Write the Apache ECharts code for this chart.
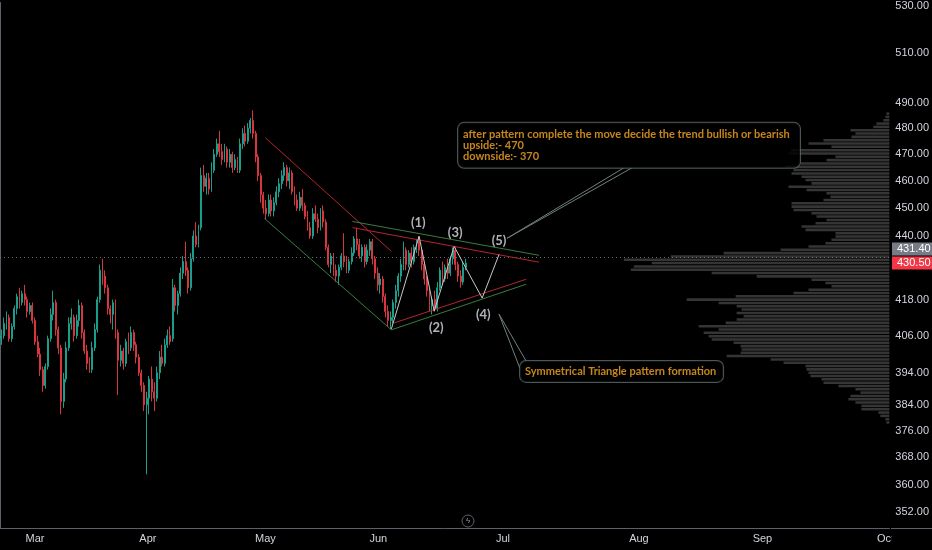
<!DOCTYPE html>
<html><head><meta charset="utf-8">
<script src="https://cdn.jsdelivr.net/npm/echarts@6/dist/echarts.min.js"></script>
<style>html,body{margin:0;padding:0;background:#000}#c{width:932px;height:550px}</style>
</head><body><div id="c"></div>
<script>
// ---- data ----
const monthTicks = [13.5, 57, 102.3, 145.8, 193.8, 246.2, 293.8, 341.2];
const monthLabels = ['Mar', 'Apr', 'May', 'Jun', 'Jul', 'Aug', 'Sep', 'Oct'];
const priceTicks = [352, 360, 368, 376, 384, 394, 406, 418, 440, 450, 460, 470, 480, 490, 510, 530];
const priceMin = 347.6, priceMax = 531.3;
const lastPrice = 430.50, refPrice = 431.40;

// [open, close, low, high]
const candles = [
[405,406,403,408],[406,410,405,412],[410,412,408,414],[412,405,404,413],[405,409,404,410],
[409,415,408,416],[415,419,413,420],[419,417,415,422],[417,420,416,421],[420,418,416,423],
[418,414,412,419],[414,416,413,417],[416,411,410,417],[411,404,403,412],[404,400,399,406],
[400,395,393,402],[395,390,388,396],[390,396,389,397],[396,405,395,406],[405,413,404,415],
[413,417,411,421],[417,408,406,418],[408,402,400,409],[402,385,381,403],[385,392,383,394],
[392,402,391,404],[402,410,401,412],[410,412,408,415],[412,406,404,413],[406,411,405,413],
[411,416,409,418],[416,407,405,417],[407,401,400,408],[401,397,395,403],[397,395,394,399],
[395,402,394,404],[402,408,401,410],[408,418,407,419],[418,428,417,430],[428,426,423,432],
[426,422,420,428],[422,415,413,423],[415,413,410,416],[413,417,408,418],[417,407,405,418],
[407,398,387,408],[398,401,396,403],[401,397,395,402],[397,404,396,405],[404,402,400,407],
[402,407,401,409],[407,403,401,408],[403,399,397,404],[399,394,393,400],[394,390,388,395],
[390,384,382,391],[384,386,363,388],[386,392,381,393],[392,388,385,396],[388,386,382,391],
[386,394,385,396],[394,399,392,401],[399,397,396,403],[397,403,396,405],[403,406,402,408],
[406,404,403,409],[405,422,404,425],[422,416,414,423],[416,420,413,421],[420,427,419,429],
[427,431,425,433],[431,428,426,438],[428,422,420,429],[422,432,421,434],[432,440,431,442],
[440,437,436,445],[437,442,436,444],[443,462,442,465],[462,458,456,466],[458,461,455,463],
[461,457,455,463],[457,464,456,467],[464,470,463,472],[470,474,469,476],[474,471,469,479],
[471,468,466,474],[468,472,467,474],[472,467,465,473],[467,470,465,472],[470,465,463,471],
[465,468,464,470],[468,464,463,469],[464,474,463,476],[474,478,472,480],[478,475,473,481],
[475,480,474,482],[480,483,478,484],[483,478,476,487],[478,469,467,479],[469,462,460,470],
[462,455,452,463],[455,450,448,456],[450,448,446,453],[448,453,447,455],[453,449,447,455],
[449,452,447,454],[452,456,451,458],[456,459,454,461],[459,462,457,464],[462,465,460,467],
[465,460,458,466],[460,463,457,465],[463,456,455,464],[456,453,451,458],[453,450,449,455],
[450,454,449,456],[454,451,449,457],[451,447,446,452],[447,443,442,449],[443,440,439,445],
[440,448,439,450],[448,446,445,451],[446,443,441,448],[443,449,442,450],[449,445,443,451],
[445,436,435,446],[436,430,429,437],[430,433,427,434],[433,428,426,434],[428,426,424,430],
[426,429,423,430],[429,433,428,434],[433,431,429,441],[431,428,427,433],[428,431,427,432],
[431,434,430,436],[434,439,433,440],[439,437,435,443],[437,433,432,439],[433,436,431,437],
[436,431,429,437],[431,435,430,437],[435,438,433,439],[438,432,430,439],[432,427,425,433],
[427,423,421,429],[423,425,420,427],[425,419,417,426],[419,414,412,420],[414,411,409,416],
[411,412,408,414],[412,417,410,418],[417,421,415,423],[421,426,419,427],[426,430,424,432],
[430,435,428,438],[435,430,428,436],[430,434,429,435],[434,431,429,436],[431,436,430,437],
[436,438,434,439],[438,435,433,440],[435,430,428,436],[430,425,423,431],[425,421,419,426],
[421,416,414,422],[416,418,413,419],[418,415,414,421],[415,422,414,424],[422,428,421,429],
[428,425,423,431],[425,429,424,430],[429,427,425,432],[427,432,426,433],[432,435,430,436],
[435,430,428,436],[430,426,424,431],[426,424,422,428],[424,429,423,431],[429,430.5,428,432]
];

// volume profile, top row (highest price) to bottom row
const profileTop = 485.7, profileBottom = 378.5;
const profileVolumes = [
3,4,6,13,16,39,34,38,66,81,58,99,101,54,63,89,104,96,98,88,
84,78,101,83,63,59,66,98,98,96,78,73,63,74,88,84,54,54,58,64,
81,109,166,219,266,238,256,259,178,133,78,64,58,81,96,154,203,171,153,148,
153,146,153,164,191,171,186,181,178,156,149,148,149,163,119,106,84,83,81,79,
68,66,51,34,29,39,41,34,28,28,11,9,4,3
];

// drawings: [bar position, price]
const redChannel = [[102.3, 476.3], [150.8, 434.6]];
const greenChannel = [[101.9, 446.3], [150.8, 407.9]];
const greenTop = [[135.8, 445.2], [207.7, 433.2]];
const redTop = [[135.8, 443.0], [207.7, 430.8]];
const redBottom = [[151.9, 410.2], [202.7, 424.9]];
const greenBottom = [[150.8, 407.9], [202.7, 423.2]];
const waveX = [150.8, 161.5, 167.3, 175.0, 185.8, 192.3];
const waveP = [408.2, 439.9, 414.1, 436.3, 418.5, 433.5];
const waveLabels = ['(1)', '(2)', '(3)', '(4)', '(5)'];
const waveLabelX = [161.2, 168.1, 175.4, 186.2, 192.3];
const waveLabelP = [444.8, 408.5, 441.3, 412.8, 438.4];
const noteTop = 'after pattern complete the move decide the trend bullish or bearish\nupside:- 470\ndownside:- 370';
const noteBottom = 'Symmetrical Triangle pattern formation';
const noteTopAnchor = [176.5, 482.1];
const noteBottomAnchor = [200.4, 397.8];
const tailTop = [[240.4, 464.9], [195.4, 439.2], [243.5, 464.9]];
const tailBottom = [[200.4, 395.3], [192.3, 413.1], [202.7, 397.8]];

// ---- build ----
const L = Math.log;
const candleData = candles.map((c, i) => [i + 0.5, L(c[0]), L(c[1]), L(c[2]), L(c[3])]);
const nRows = profileVolumes.length;
const lnTop = L(profileTop), lnBot = L(profileBottom);
const step = (lnTop - lnBot) / (nRows - 1);
const profileData = profileVolumes.map((v, i) => [v, lnTop - i * step, step * 0.38]);
const seg = pts => pts.map(p => [p[0], L(p[1])]);

const lineSeries = (pts, color, z) => ({
  type: 'line', data: seg(pts), symbol: 'none', silent: true, z: z || 5,
  lineStyle: { color: color, width: 1 }, animation: false
});

const chart = echarts.init(document.getElementById('c'), null, { renderer: 'canvas' });
const axisColor = '#5d606b';
const textColor = '#d1d4dc';
const axisFont = "'Liberation Sans Narrow', 'Liberation Sans', sans-serif";

chart.setOption({
  backgroundColor: '#000000',
  animation: false,
  grid: { left: 0, right: 41, top: 0, bottom: 22, containLabel: false },
  xAxis: [{
    type: 'value', min: 0, max: 342.7,
    axisLine: { show: true, lineStyle: { color: axisColor } },
    axisTick: { show: false }, splitLine: { show: false },
    axisLabel: {
      customValues: monthTicks, color: textColor, fontSize: 11, margin: 5, fontFamily: axisFont,
      formatter: v => { let k = 0, d = 1e9; monthTicks.forEach((t, i) => { if (Math.abs(t - v) < d) { d = Math.abs(t - v); k = i; } }); return monthLabels[k]; }
    }
  }, {
    type: 'value', min: 0, max: 891, inverse: true, show: false, position: 'top'
  }],
  yAxis: [{
    type: 'value', position: 'right', min: L(priceMin), max: L(priceMax),
    axisLine: { show: true, lineStyle: { color: axisColor } },
    axisTick: { show: false }, splitLine: { show: false },
    axisLabel: {
      customValues: priceTicks.map(L), color: textColor, fontSize: 11, margin: 6, fontFamily: axisFont,
      formatter: v => Math.exp(v).toFixed(2)
    }
  }],
  series: [
    {
      type: 'custom', xAxisIndex: 1, yAxisIndex: 0, data: profileData, silent: true, z: 1,
      renderItem: function (params, api) {
        const v = api.value(0), c = api.value(1), h = api.value(2);
        const p1 = api.coord([0, c + h]);
        const p2 = api.coord([v, c - h]);
        return {
          type: 'rect',
          shape: { x: Math.min(p1[0], p2[0]), y: p1[1], width: Math.abs(p1[0] - p2[0]), height: p2[1] - p1[1] },
          style: { fill: '#353535' }
        };
      }
    },
    {
      type: 'candlestick', data: candleData, z: 3, barWidth: 1.4, silent: true,
      dimensions: ['x', 'open', 'close', 'low', 'high'],
      encode: { x: 'x', y: ['open', 'close', 'low', 'high'] },
      itemStyle: { color: '#1a9e8c', color0: '#d8363e', borderColor: '#1a9e8c', borderColor0: '#d8363e', borderWidth: 1 },
      markLine: {
        silent: true, symbol: 'none', animation: false,
        data: [
          { yAxis: L(refPrice), lineStyle: { color: '#6a6d78', type: [1, 3], width: 1 }, label: { show: false } }
        ]
      }
    },
    lineSeries(redChannel, '#b3262d'),
    lineSeries(greenChannel, '#3b7d3f'),
    lineSeries(greenTop, '#3b7d3f'),
    lineSeries(redTop, '#b3262d'),
    lineSeries(redBottom, '#b3262d'),
    lineSeries(greenBottom, '#3b7d3f'),
    {
      type: 'line', data: waveX.map((x, i) => [x, L(waveP[i])]), symbol: 'none', silent: true, z: 6,
      lineStyle: { color: '#c9c9c9', width: 1 }
    },
    lineSeries(tailTop, '#71807d', 6),
    lineSeries(tailBottom, '#71807d', 6),
    {
      type: 'scatter', symbolSize: 0, silent: true, z: 7,
      data: waveLabelX.map((x, i) => ({ value: [x, L(waveLabelP[i])], name: waveLabels[i] })),
      label: { show: true, position: 'inside', formatter: p => p.name, color: '#dcdfe6', fontSize: 13, fontWeight: 'bold', fontFamily: 'Lato' }
    },
    {
      type: 'scatter', symbolSize: 0, silent: true, z: 8,
      data: [
        { value: [noteTopAnchor[0], L(noteTopAnchor[1])], name: noteTop,
          label: { width: 332, height: 33, padding: [6, 5, 6, 5] } },
        { value: [noteBottomAnchor[0], L(noteBottomAnchor[1])], name: noteBottom,
          label: { width: 193, height: 11, padding: [5, 5, 5, 5] } }
      ],
      label: {
        show: true, position: [0, 0], align: 'left', verticalAlign: 'top', formatter: p => p.name,
        color: '#f7a823', fontSize: 11, lineHeight: 11, fontWeight: 'bold', fontFamily: 'Lato',
        backgroundColor: '#000000', borderColor: '#5f6d6a', borderWidth: 1, borderRadius: 6
      }
    }
  ]
});

// price tags on the price scale (last price, and the reference tag pushed above it)
const yLast = chart.convertToPixel({ yAxisIndex: 0 }, L(lastPrice));
const tag = (y, text, fill) => ([
  { type: 'rect', shape: { x: 892, y: y - 6.5, width: 40, height: 13 }, style: { fill: fill }, z: 100 },
  { type: 'text', x: 897, y: y, style: { text: text, fill: '#ffffff', font: "11px 'Liberation Sans Narrow', 'Liberation Sans', sans-serif", verticalAlign: 'middle', align: 'left' }, z: 101 }
]);
chart.setOption({
  graphic: [
    { type: 'rect', shape: { x: 891.5, y: 529, width: 41, height: 21 }, style: { fill: '#000' }, z: 100 },
    { type: 'line', shape: { x1: 891, y1: 528.5, x2: 932, y2: 528.5 }, style: { stroke: axisColor, lineWidth: 1 }, z: 100 },
    { type: 'circle', shape: { cx: 468, cy: 521, r: 6 }, style: { stroke: '#5d606b', fill: '#000', lineWidth: 1 }, z: 100 },
    { type: 'text', x: 468, y: 521, style: { text: 'ϟ', fill: '#9598a1', fontSize: 8, align: 'center', verticalAlign: 'middle' }, z: 101 }
  ].concat(tag(yLast - 14, refPrice.toFixed(2), '#787b86'), tag(yLast, lastPrice.toFixed(2), '#f23645'))
});
</script></body></html>
